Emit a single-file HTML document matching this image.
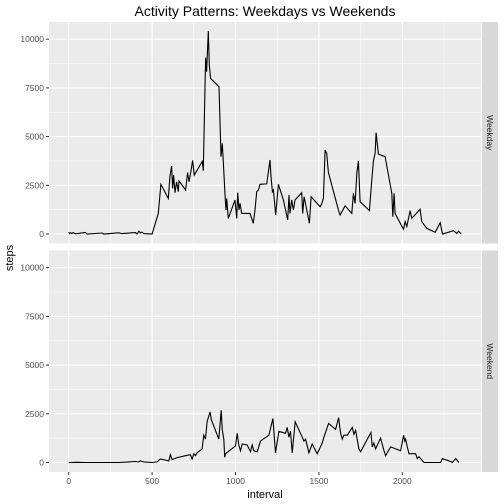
<!DOCTYPE html>
<html><head><meta charset="utf-8"><style>
body{margin:0;background:#fff}
svg{display:block;font-family:"Liberation Sans",sans-serif}
</style></head><body>
<svg id="c" width="504" height="504" xmlns="http://www.w3.org/2000/svg">
<text x="265" y="16" text-anchor="middle" font-size="14" fill="#000">Activity Patterns: Weekdays vs Weekends</text>
<text transform="translate(13,258) rotate(-90)" text-anchor="middle" font-size="11">steps</text>
<text x="265" y="498" text-anchor="middle" font-size="11">interval</text>
</svg>
<script>
const xTicks=[0,500,1000,1500,2000];
const yTicks=[0,2500,5000,7500,10000];
const panelNames=["Weekday","Weekend"];
const weekdayIntervals=[0,5,10,20,25,40,100,110,200,210,300,320,400,410,420,430,440,450,500,507,537,553,597,607,617,623,629,637,647,657,661,701,713,721,731,743,753,801,807,821,827,837,843,851,901,913,921,927,939,943,947,957,997,1007,1013,1021,1027,1037,1087,1107,1117,1127,1137,1147,1187,1207,1213,1221,1227,1241,1257,1287,1313,1321,1327,1337,1347,1357,1397,1403,1411,1443,1453,1507,1517,1527,1537,1547,1557,1617,1627,1657,1697,1707,1717,1727,1737,1747,1803,1817,1827,1837,1843,1857,1897,1937,1943,1951,1957,1967,2007,2017,2027,2047,2057,2107,2117,2147,2197,2227,2241,2307,2327,2337,2353];
const weekdaySteps=[90,20,60,30,70,10,80,0,50,0,60,20,70,0,150,60,100,20,0,205,1060,2550,1830,2940,3490,2340,3030,2120,2680,2170,2720,2260,3150,2680,3110,3780,3030,3730,3250,9050,8330,10410,8670,7990,7560,3970,4650,3710,1745,1230,1830,800,1745,800,2120,1230,1570,1060,1060,550,1230,2170,2260,2550,2570,3800,2940,2170,2260,975,2550,1745,720,2000,1060,1745,1230,1745,2120,1060,1915,550,1915,1400,1540,1830,4310,4140,3160,1230,975,1450,1060,2090,1570,3110,3750,1660,1200,2770,3750,4140,5200,4100,3970,2090,890,2090,1060,890,240,630,380,1200,800,1270,630,290,85,580,0,170,30,150,0];
const weekendIntervals=[0,50,100,200,300,350,400,420,430,450,500,530,550,600,610,620,650,700,730,740,750,760,770,800,810,820,830,848,855,900,914,920,930,935,940,1000,1010,1020,1030,1040,1070,1090,1100,1110,1130,1150,1200,1224,1240,1260,1300,1310,1320,1330,1340,1358,1400,1410,1420,1440,1460,1490,1520,1530,1558,1600,1618,1630,1640,1650,1670,1700,1710,1720,1740,1750,1812,1820,1830,1840,1870,1890,1900,1930,1990,2008,2015,2020,2030,2040,2080,2090,2100,2120,2130,2200,2230,2240,2290,2300,2320,2340];
const weekendSteps=[0,10,0,0,0,20,50,30,80,30,0,30,180,80,400,150,250,350,400,180,450,350,500,700,1400,1200,2100,2600,2200,1200,2680,1700,1200,270,450,850,1500,900,600,950,900,550,900,600,550,1100,1400,2260,500,1600,1500,1800,1300,1600,500,2090,1300,1100,1200,500,950,450,1000,1300,2000,1700,2300,1500,1200,1400,1400,1800,1450,1650,700,550,1540,800,1000,700,1250,600,350,800,600,1400,1100,1200,800,450,450,200,300,100,0,0,0,200,50,0,200,0];

const svg=document.getElementById('c');
const NS="http://www.w3.org/2000/svg";
const X0=49,X1=481;
const xs=v=>68.7+v*0.1668;
const panels=[{top:22,bot:243.5,zero:234,xi:weekdayIntervals,ys:weekdaySteps},{top:250.5,bot:472,zero:462.5,xi:weekendIntervals,ys:weekendSteps}];
const k=0.01948;
function mk(tag,attrs){const e=document.createElementNS(NS,tag);for(const a in attrs)e.setAttribute(a,attrs[a]);svg.appendChild(e);return e;}
panels.forEach((p,i)=>{
  const ys=v=>p.zero-v*k;
  const bg=mk('rect',{x:X0,y:p.top,width:X1-X0,height:p.bot-p.top,fill:'#ebebeb'});
  
  
  for(let j=0;j<yTicks.length-1;j++){const m=(yTicks[j]+yTicks[j+1])/2;
    const l=mk('line',{x1:X0,x2:X1,y1:ys(m),y2:ys(m),stroke:'#fff','stroke-width':0.5});
    
    }
  for(let j=0;j<xTicks.length;j++){const m=xTicks[j]+250;
    const l=mk('line',{x1:xs(m),x2:xs(m),y1:p.top,y2:p.bot,stroke:'#fff','stroke-width':0.5});
    
    }
  yTicks.forEach(t=>{
    const l=mk('line',{x1:X0,x2:X1,y1:ys(t),y2:ys(t),stroke:'#fff','stroke-width':1.1});
    
    
    const tk=mk('line',{x1:X0-3,x2:X0,y1:ys(t),y2:ys(t),stroke:'#333','stroke-width':1});
    
    
    const tx=mk('text',{x:X0-5,y:ys(t)+3,'text-anchor':'end','font-size':8.5,fill:'#4d4d4d'});
    tx.textContent=t;
    
    
  });
  xTicks.forEach(t=>{
    const l=mk('line',{x1:xs(t),x2:xs(t),y1:p.top,y2:p.bot,stroke:'#fff','stroke-width':1.1});
    
    
  });
  let d='';p.xi.forEach((v,j)=>{d+=(j?'L':'M')+xs(v).toFixed(1)+','+ys(p.ys[j]).toFixed(1);});
  const path=mk('path',{d:d,fill:'none',stroke:'#000','stroke-width':1.1});
  
  
  const st=mk('rect',{x:482,y:p.top,width:16,height:p.bot-p.top,fill:'#d9d9d9'});
  
  
  const stx=mk('text',{transform:`translate(487,${(p.top+p.bot)/2}) rotate(90)`,'text-anchor':'middle','font-size':8.5,fill:'#1a1a1a'});
  stx.textContent=panelNames[i];
  
  
});
xTicks.forEach(t=>{
  const tk=mk('line',{x1:xs(t),x2:xs(t),y1:472,y2:475,stroke:'#333','stroke-width':1});
  
  
  const tx=mk('text',{x:xs(t),y:484,'text-anchor':'middle','font-size':8.5,fill:'#4d4d4d'});
  tx.textContent=t;
  
  
});
</script>
</body></html>
